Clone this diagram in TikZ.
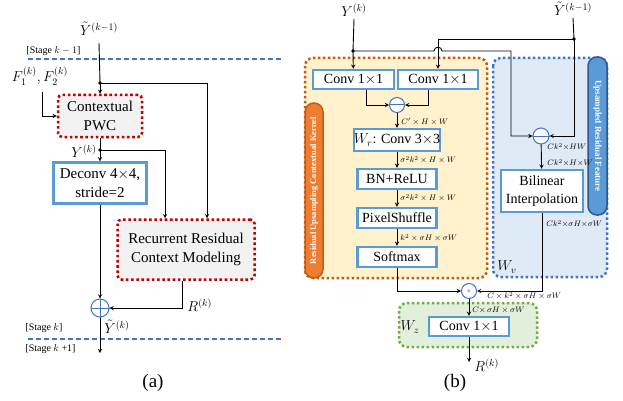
\documentclass[tikz,border=0pt]{standalone}
\usepackage{amsmath,amssymb}
\usepackage{fontspec}
\setmainfont{Liberation Serif}
\definecolor{redline}{HTML}{C00000}
\definecolor{boxgray}{HTML}{F2F2F2}
\definecolor{boxblue}{HTML}{5B9BD5}
\definecolor{circblue}{HTML}{4472C4}
\definecolor{orangeline}{HTML}{C55A11}
\definecolor{orangefill}{HTML}{FFF2CC}
\definecolor{orangetab}{HTML}{ED7D31}
\definecolor{bluefill}{HTML}{DEEBF7}
\definecolor{bluetab}{HTML}{2F5597}
\definecolor{greenline}{HTML}{70AD47}
\definecolor{greenfill}{HTML}{E2EFDA}

\begin{document}
\begin{tikzpicture}[>=stealth,x=1pt,y=-1pt,line width=0.9pt,
	every node/.style={inner sep=0pt},
	redbox/.style={draw=redline,fill=boxgray,line width=2.5pt,dash pattern=on 2.6pt off 2.6pt,rounded corners=4pt,align=center,font=\fontsize{15}{19}\selectfont},
	bluebox/.style={draw=boxblue,fill=white,line width=2.4pt,align=center,font=\fontsize{14}{18}\selectfont},
	region/.style={line width=2.5pt,dash pattern=on 2.5pt off 2.5pt,rounded corners=8pt},
	tab/.style={rounded corners=9pt,line width=1.5pt,text=white,font=\fontsize{9}{10}\selectfont\bfseries},
	opcircle/.style={circle,draw=circblue,fill=white,line width=1pt,minimum size=15pt},
	joint/.style={circle,fill,minimum size=3.6pt},
	mathlabel/.style={font=\fontsize{14}{16}\selectfont},
	dimlabel/.style={anchor=west,font=\fontsize{8}{9}\selectfont},
	stagelabel/.style={anchor=west,font=\fontsize{10}{12}\selectfont},
	stageline/.style={circblue,line width=1.2pt,dash pattern=on 5pt off 3pt}]
	\useasboundingbox (0,0) rectangle (623,401);
	\node[mathlabel] (ya) at (99,29) {$\tilde{Y}^{(k-1)}$};
	\node[mathlabel] (fa) at (40,76) {$F_1^{(k)},F_2^{(k)}$};
	\node[redbox,minimum width=84pt,minimum height=42pt] (pwc) at (100,116) {Contextual\\PWC};
	\node[bluebox,minimum width=93pt,minimum height=41pt,font=\fontsize{15}{19}\selectfont] (deconv) at (100,183) {Deconv 4$\times$4,\\stride=2};
	\node[redbox,minimum width=137pt,minimum height=60pt] (rrcm) at (186,249.5) {Recurrent Residual\\Context Modeling};
	\node[opcircle,minimum size=18pt] (plus) at (100,308) {};
	\draw[circblue,line width=1pt] (plus.north)--(plus.south) (plus.west)--(plus.east);
	\coordinate (ja) at (100,83);
	\coordinate (jb) at (100,150);
	\coordinate (outa) at (100,353);
	\draw[stageline] (28,59)--(283,59);
	\draw[stageline] (28,339)--(283,339);
	\node[stagelabel] (sa) at (26,51) {[Stage $k-1$]};
	\node[stagelabel] (sb) at (25,328) {[Stage $k$]};
	\node[stagelabel] (sc) at (25,349) {[Stage $k$ +1]};
	\draw (ya) ++(0,14) -- (ja);
	\draw[->] (ja) -- (pwc);
	\draw[->] (ja) -| ([xshift=21pt]rrcm.north);
	\draw[->] (fa) ++(2,16) |- (pwc.west);
	\draw[->] (pwc) -- (deconv);
	\draw[->] (jb) -| ([xshift=-21pt]rrcm.north);
	\draw[->] (deconv) -- (plus);
	\draw[->] ([xshift=-4pt]rrcm.south) |- (plus);
	\draw[->] (plus) -- (outa);
	\node[joint] at (ja) {};
	\node[joint] at (jb) {};
	\node[mathlabel,anchor=east] (yka) at (97,151) {$Y^{(k)}$};
	\node[mathlabel,anchor=west] (rka) at (187,305) {$R^{(k)}$};
	\node[mathlabel,anchor=west] (yta) at (104,327) {$\tilde{Y}^{(k)}$};
	\node[font=\fontsize{19}{22}\selectfont] (capa) at (153,383) {(a)};
	\draw[region,draw=orangeline,fill=orangefill] (305,58) rectangle (487,278);
	\draw[region,draw=circblue,fill=bluefill] (493,58) rectangle (607,277);
	\draw[region,draw=greenline,fill=greenfill] (399,303) rectangle (537,347);
	\node[tab,draw=orangeline,fill=orangetab,rotate=90,minimum width=175pt,minimum height=18pt,font=\fontsize{8.5}{10}\selectfont\bfseries] (ktab) at (314,190.5) {Residual Upsampling Contextual Kernel};
	\node[tab,draw=bluetab,fill=boxblue,rotate=-90,minimum width=158pt,minimum height=19pt] (ftab) at (597.5,136) {Upsampled Residual Feature};
	\node[mathlabel] (yb) at (354,10) {$Y^{(k)}$};
	\node[mathlabel] (yc) at (573,9) {$\tilde{Y}^{(k-1)}$};
	\node[bluebox,minimum width=81pt,minimum height=19pt] (conva) at (353.5,79.5) {Conv 1$\times$1};
	\node[bluebox,minimum width=80pt,minimum height=19pt] (convb) at (438,79.5) {Conv 1$\times$1};
	\node[opcircle] (minus) at (397,105) {};
	\draw[circblue,line width=1pt] (minus.west)--(minus.east);
	\node[bluebox,minimum width=80pt,minimum height=22pt] (wr) at (397,140) {$W_r$: Conv 3$\times$3};
	\node[bluebox,minimum width=79pt,minimum height=20pt] (bn) at (397,179) {BN+ReLU};
	\node[bluebox,minimum width=79pt,minimum height=20pt] (ps) at (397,218) {PixelShuffle};
	\node[bluebox,minimum width=79pt,minimum height=20pt] (sm) at (397,257) {Softmax};
	\node[opcircle,minimum size=16pt] (minusb) at (541,136) {};
	\draw[circblue,line width=1pt] (minusb.west)--(minusb.east);
	\node[bluebox,minimum width=82pt,minimum height=42pt] (bilin) at (542,191) {Bilinear\\Interpolation};
	\node[opcircle,text=circblue,font=\small] (star) at (469,291) {$\ast$};
	\node[bluebox,minimum width=80pt,minimum height=19pt] (convz) at (469,326.5) {Conv 1$\times$1};
	\coordinate (jc) at (353,51);
	\coordinate (jd) at (574,39);
	\coordinate (outb) at (469,362);
	\draw (yb) ++(0,9) -- (jc);
	\draw[->] (jc) -- (conva);
	\draw[->] (jc) -- (434,51) .. controls (434,46) and (442,46) .. (442,51) -- (511,51) |- (minusb);
	\draw (yc) ++(0,9) -- (jd);
	\draw[->] (jd) -| (convb);
	\draw[->] (jd) |- (minusb);
	\draw[->] ([xshift=12.5pt]conva.south) |- (minus);
	\draw[->] ([xshift=-10pt]convb.south) |- (minus);
	\draw[->] (minus) -- (wr);
	\draw[->] (wr) -- (bn);
	\draw[->] (bn) -- (ps);
	\draw[->] (ps) -- (sm);
	\draw[->] (minusb) -- (bilin);
	\draw[->] (sm) |- (star);
	\draw[->] (bilin) |- (star);
	\draw[->] (star) -- (convz);
	\draw[->] (convz) -- (outb);
	\node[joint] at (jc) {};
	\node[joint] at (jd) {};
	\node[dimlabel] at (401,122) {$C'\times H\times W$};
	\node[dimlabel] at (400,160) {$\sigma^2k^2\times H\times W$};
	\node[dimlabel] at (400,198) {$\sigma^2k^2\times H\times W$};
	\node[dimlabel] at (400,238) {$k^2\times\sigma H\times\sigma W$};
	\node[dimlabel] at (547,147) {$Ck^2{\times}HW$};
	\node[dimlabel] at (547,163) {$Ck^2{\times}H{\times}W$};
	\node[dimlabel] at (546,224) {$Ck^2{\times}\sigma H{\times}\sigma W$};
	\node[dimlabel] at (487,296) {$C\times k^2\times\sigma H\times\sigma W$};
	\node[dimlabel] at (472,310) {$C{\times}\,\sigma H\times\sigma W$};
	\node[mathlabel] (wv) at (507,267) {$W_v$};
	\node[mathlabel] (wz) at (410,327) {$W_z$};
	\node[mathlabel,anchor=west] (rkb) at (474,365) {$R^{(k)}$};
	\node[font=\fontsize{19}{22}\selectfont] (capb) at (455,383) {(b)};
\end{tikzpicture}
\end{document}
